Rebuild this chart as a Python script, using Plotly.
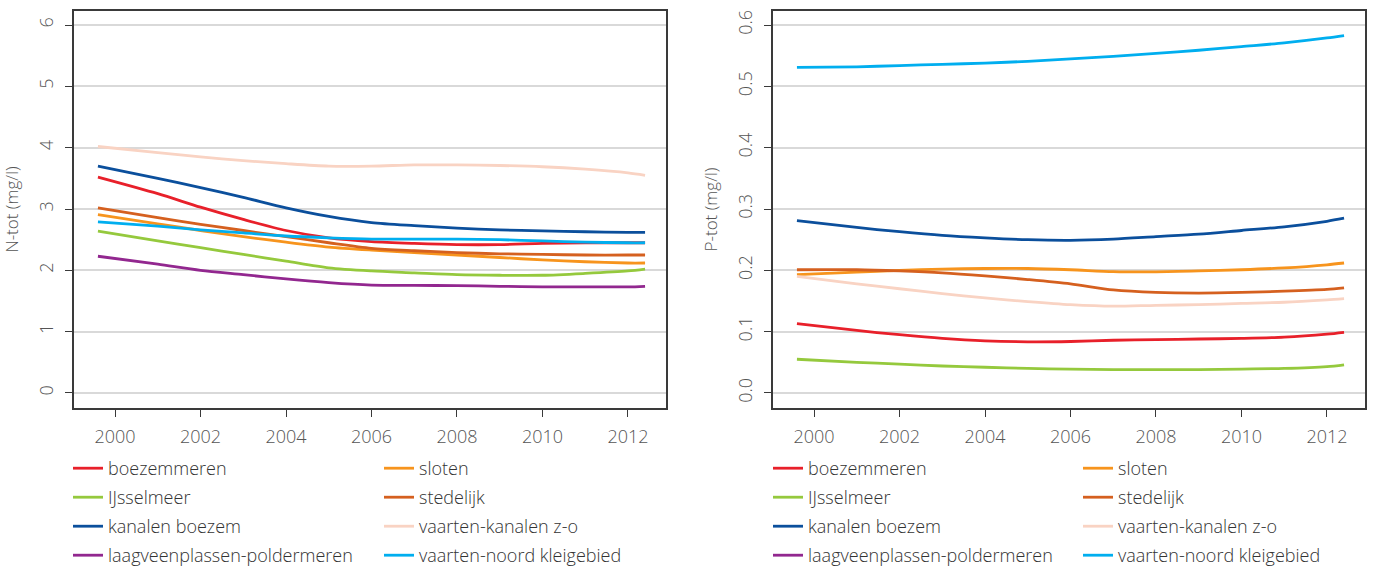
import plotly.graph_objects as go

W, H = 1376, 570

# ---------------- data ----------------
series_names = ["boezemmeren", "IJsselmeer", "kanalen boezem", "laagveenplassen-poldermeren",
                "sloten", "stedelijk", "vaarten-kanalen z-o", "vaarten-noord kleigebied"]
series_colors = ["#e8202a", "#95c93d", "#0b4f9c", "#92278f",
                 "#f7941d", "#d5601f", "#f9d3c3", "#00aeef"]

years = [1999.6, 2001, 2002, 2003, 2004, 2005, 2006, 2007, 2008, 2009, 2010, 2011, 2012, 2012.4]

# N-tot (mg/l)
n_boezemmeren = [3.52, 3.25, 3.03, 2.83, 2.65, 2.53, 2.47, 2.44, 2.42, 2.42, 2.44, 2.45, 2.45, 2.45]
n_ijsselmeer = [2.64, 2.48, 2.37, 2.26, 2.15, 2.04, 1.99, 1.96, 1.93, 1.92, 1.92, 1.95, 1.99, 2.02]
n_kanalen = [3.70, 3.50, 3.35, 3.19, 3.02, 2.88, 2.78, 2.73, 2.69, 2.66, 2.645, 2.63, 2.62, 2.62]
n_laagveen = [2.23, 2.10, 2.00, 1.93, 1.86, 1.80, 1.76, 1.755, 1.75, 1.74, 1.73, 1.73, 1.73, 1.74]
n_sloten = [2.91, 2.76, 2.65, 2.55, 2.46, 2.38, 2.33, 2.29, 2.25, 2.21, 2.17, 2.14, 2.12, 2.12]
n_stedelijk = [3.02, 2.86, 2.75, 2.65, 2.55, 2.45, 2.36, 2.32, 2.29, 2.27, 2.26, 2.25, 2.25, 2.25]
n_vaarten_zo = [4.02, 3.92, 3.85, 3.79, 3.74, 3.70, 3.70, 3.72, 3.72, 3.71, 3.69, 3.65, 3.59, 3.55]
n_vaarten_noord = [2.79, 2.72, 2.66, 2.61, 2.56, 2.53, 2.51, 2.51, 2.51, 2.50, 2.48, 2.46, 2.45, 2.45]

# P-tot (mg/l)
p_boezemmeren = [0.113, 0.102, 0.095, 0.089, 0.085, 0.0835, 0.084, 0.086, 0.087, 0.088, 0.089, 0.091, 0.096, 0.099]
p_ijsselmeer = [0.055, 0.050, 0.047, 0.044, 0.042, 0.040, 0.039, 0.038, 0.038, 0.038, 0.039, 0.040, 0.043, 0.046]
p_kanalen = [0.281, 0.270, 0.263, 0.257, 0.253, 0.250, 0.249, 0.251, 0.255, 0.259, 0.265, 0.271, 0.280, 0.285]
p_laagveen = [None] * 14
p_sloten = [0.193, 0.197, 0.200, 0.202, 0.203, 0.203, 0.201, 0.198, 0.1976, 0.199, 0.201, 0.204, 0.209, 0.212]
p_stedelijk = [0.201, 0.201, 0.199, 0.196, 0.191, 0.185, 0.178, 0.168, 0.164, 0.163, 0.164, 0.166, 0.169, 0.1715]
p_vaarten_zo = [0.190, 0.178, 0.170, 0.162, 0.155, 0.149, 0.144, 0.1415, 0.143, 0.144, 0.146, 0.148, 0.152, 0.154]
p_vaarten_noord = [0.531, 0.532, 0.534, 0.536, 0.538, 0.541, 0.545, 0.549, 0.554, 0.559, 0.565, 0.571, 0.579, 0.583]

n_values = [n_boezemmeren, n_ijsselmeer, n_kanalen, n_laagveen,
            n_sloten, n_stedelijk, n_vaarten_zo, n_vaarten_noord]
p_values = [p_boezemmeren, p_ijsselmeer, p_kanalen, p_laagveen,
            p_sloten, p_stedelijk, p_vaarten_zo, p_vaarten_noord]

x_ticks = [2000, 2002, 2004, 2006, 2008, 2010, 2012]
n_ticks = [0, 1, 2, 3, 4, 5, 6]
p_ticks = [0.0, 0.1, 0.2, 0.3, 0.4, 0.5, 0.6]

# ---------------- figure ----------------
FONT = "Open Sans, Roboto, Liberation Sans, sans-serif"
fig = go.Figure()

for panel, (vals, xa, ya, legs) in enumerate([
        (n_values, "x", "y", ("legend", "legend2")),
        (p_values, "x2", "y2", ("legend3", "legend4"))]):
    for i, (name, col, v) in enumerate(zip(series_names, series_colors, vals)):
        fig.add_trace(go.Scatter(
            x=years, y=v, name=name, mode="lines",
            line=dict(color=col, width=2.8, shape="spline", smoothing=0.8),
            xaxis=xa, yaxis=ya,
            legend=legs[0] if i < 4 else legs[1],
            legendgroup=f"{panel}-{name}",
            showlegend=True,
        ))

def px_x(p):
    return p / W

def px_y(p):
    return 1 - p / H

axis_common = dict(
    showline=True, mirror=True, linecolor="#3a3a3a", linewidth=1.5,
    ticks="outside", ticklen=7, tickwidth=1, tickcolor="#3a3a3a",
    tickfont=dict(family=FONT, size=18, color="#555555", weight=300),
    zeroline=False,
)

x_range = [1999.04, 2012.89]
title_font = dict(family=FONT, size=17, color="#555555", weight=300)
fig.update_layout(
    width=W, height=H,
    margin=dict(l=0, r=0, t=0, b=0, autoexpand=False),
    paper_bgcolor="white", plot_bgcolor="white",
    font=dict(family=FONT, size=18, color="#333333", weight=300),
    xaxis=dict(domain=[px_x(74), px_x(666)], range=x_range, tickvals=x_ticks,
               showgrid=False, anchor="y", ticklabelstandoff=5, **axis_common),
    yaxis=dict(domain=[px_y(408), px_y(11)], range=[-0.245, 6.23], tickvals=n_ticks,
               tickangle=-90, showgrid=True, gridcolor="#d9d9d9", gridwidth=1.5,
               anchor="x", ticklabelstandoff=5,
               title=dict(text="N-tot (mg/l)", standoff=11, font=title_font),
               **axis_common),
    xaxis2=dict(domain=[px_x(773), px_x(1365)], range=x_range, tickvals=x_ticks,
                showgrid=False, anchor="y2", ticklabelstandoff=5, **axis_common),
    yaxis2=dict(domain=[px_y(408), px_y(11)], range=[-0.0245, 0.623], tickvals=p_ticks,
                tickformat=".1f", tickangle=-90, showgrid=True, gridcolor="#d9d9d9",
                gridwidth=1.5, anchor="x2", ticklabelstandoff=5,
                title=dict(text="P-tot (mg/l)", standoff=11, font=title_font),
                **axis_common),
)

leg_common = dict(xanchor="left", yanchor="top", y=px_y(450), bgcolor="rgba(0,0,0,0)",
                  borderwidth=0, traceorder="grouped", tracegroupgap=2.6,
                  font=dict(family=FONT, size=18, color="#333333", weight=300))
fig.update_layout(
    legend=dict(x=px_x(68), **leg_common),
    legend2=dict(x=px_x(379), **leg_common),
    legend3=dict(x=px_x(768), **leg_common),
    legend4=dict(x=px_x(1078), **leg_common),
)

fig.write_html("out.html", config={"displayModeBar": False},
               post_script="document.body.style.margin='0';")
